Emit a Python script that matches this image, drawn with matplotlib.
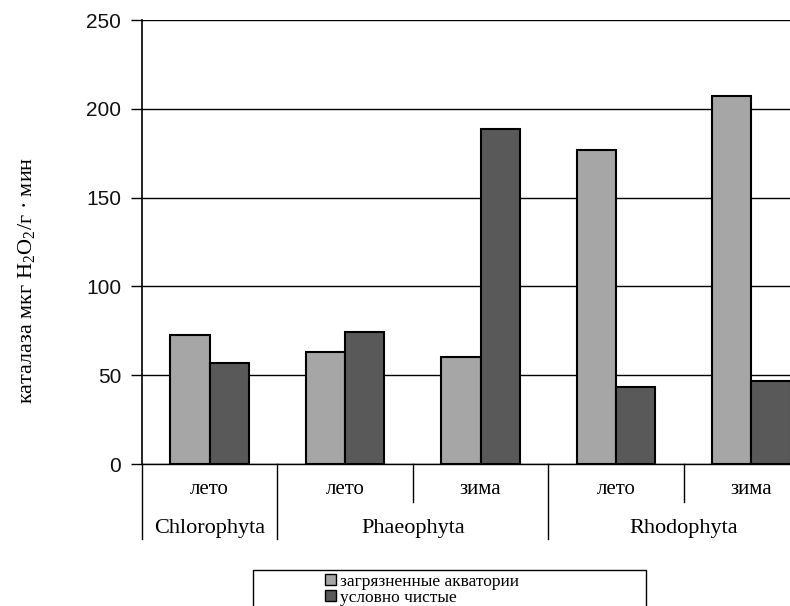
import matplotlib
matplotlib.use('Agg')
from matplotlib import pyplot as plt
from matplotlib.patches import Rectangle, Patch
import matplotlib.transforms as mtransforms
import numpy as np

plt.rcParams['mathtext.fontset'] = 'custom'
plt.rcParams['mathtext.rm'] = 'Liberation Serif'
plt.rcParams['mathtext.it'] = 'Liberation Serif:italic'

# catalase activity by division and season
seasons = ['лето', 'лето', 'зима', 'лето', 'зима']
divisions = ['Chlorophyta', 'Phaeophyta', 'Rhodophyta']
division_spans = [(0, 1), (1, 3), (3, 5)]
polluted = [72.4, 63.2, 60.2, 176.8, 207.1]
clean = [56.6, 74.1, 188.7, 43.1, 46.8]
series_names = ['загрязненные акватории', 'условно чистые']
yticks = [0, 50, 100, 150, 200, 250]

light = '#a6a6a6'
dark = '#595959'
serif = 'Liberation Serif'

fig = plt.figure(figsize=(7.9, 6.06), dpi=100)
# plot area runs past the right edge of the canvas
ax = fig.add_axes([142 / 790, 142 / 606, 677 / 790, 444 / 606])

x = np.arange(len(seasons)) + 0.5
w = 0.29
ax.bar(x - w / 2, polluted, w, color=light, edgecolor='black', linewidth=1.5, zorder=3)
ax.bar(x + w / 2, clean, w, color=dark, edgecolor='black', linewidth=1.5, zorder=3)

ax.set_xlim(0, len(seasons))
ax.set_ylim(0, 250)
ax.set_yticks(yticks)
ax.yaxis.grid(True, color='black', linewidth=1)
ax.set_axisbelow(True)
ax.tick_params(axis='y', length=8, width=1, direction='out', labelsize=15, pad=7)
for lab in ax.get_yticklabels():
    lab.set_fontfamily('Liberation Sans')
    lab.set_color('#111111')
ax.set_xticks([])
for side in ['top', 'right']:
    ax.spines[side].set_visible(False)
ax.spines['left'].set_linewidth(1.2)
ax.spines['bottom'].set_linewidth(1)

# two-level category axis drawn by hand
trans = mtransforms.blended_transform_factory(ax.transData, ax.transAxes)
inner_depth = -38 / 444
outer_depth = -75 / 444
for b in [0, 1, 3, 5]:
    ax.plot([b, b], [0, outer_depth], color='black', lw=1, transform=trans, clip_on=False)
for b in [2, 4]:
    ax.plot([b, b], [0, inner_depth], color='black', lw=1, transform=trans, clip_on=False)
for xi, s in zip(x, seasons):
    ax.text(xi, -26 / 444, s, transform=trans, ha='center', va='center',
            fontsize=15, family=serif)
for name, (a, b) in zip(divisions, division_spans):
    ax.text((a + b) / 2, -64 / 444, name, transform=trans, ha='center', va='center',
            fontsize=16, family=serif)

fig.text(27 / 790, 1 - 280 / 606, r'каталаза мкг H$_2$O$_2$/г · мин', rotation=90,
         ha='center', va='center', fontsize=16, family=serif)

# legend with a wide frame
fig.patches.append(Rectangle((253 / 790, -0.02), (646 - 253) / 790, 1 - 570 / 606 + 0.02,
                             transform=fig.transFigure, facecolor='white',
                             edgecolor='black', linewidth=1))
handles = [Patch(facecolor=light, edgecolor='black'), Patch(facecolor=dark, edgecolor='black')]
fig.legend(handles, series_names, loc='upper left', bbox_to_anchor=(316 / 790, 1 - 565 / 606),
           frameon=False, prop={'family': serif, 'size': 12.5}, handlelength=0.65,
           handleheight=0.65, handletextpad=0.25, labelspacing=0.0, borderpad=0.0)

fig.savefig('out.png', dpi=100)
